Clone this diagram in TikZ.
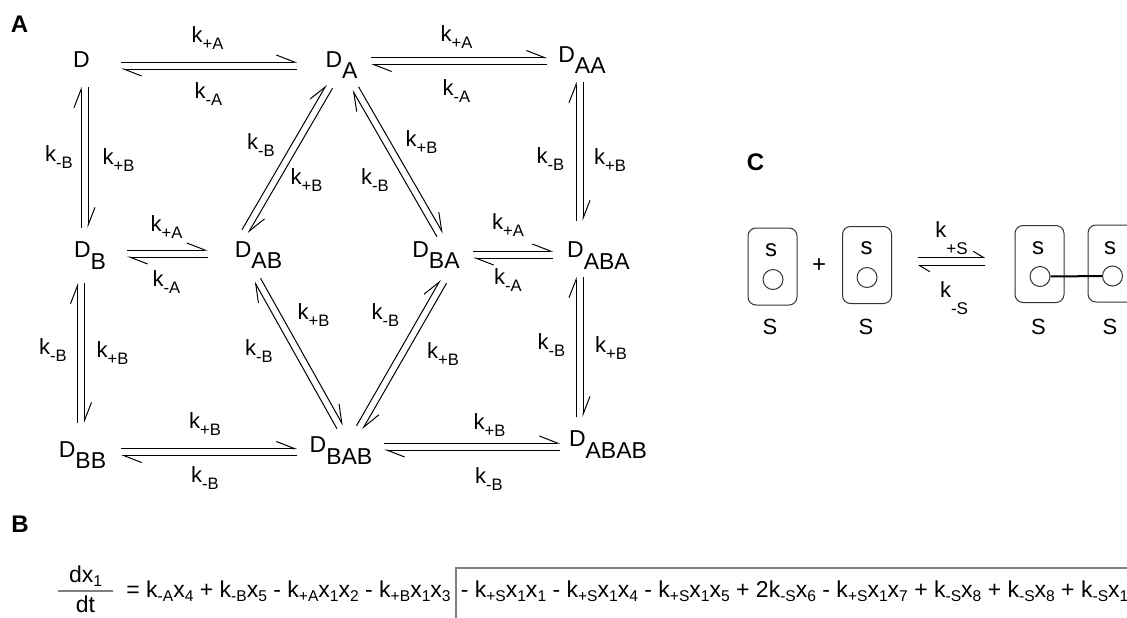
\documentclass[tikz,border=0pt]{standalone}
\usepackage{fontspec}
\setmainfont{Liberation Sans}
\usetikzlibrary{calc,arrows.meta}
\newcommand\dn[1]{\raisebox{-0.5em}{#1}}
\newcommand\lo[1]{\raisebox{-3.5pt}{\fontsize{8.3}{9}\selectfont#1}}
\newcommand\es[1]{\raisebox{-2pt}{\fontsize{7.8}{9}\selectfont#1}}
\newcommand\rxn[4][1.75pt]{\draw[#2]($#3!#1!90:#4$)--($#4!#1!-90:#3$);\draw[#2]($#4!#1!90:#3$)--($#3!#1!-90:#4$);}
\begin{document}
\begin{tikzpicture}[x=0.5pt,y=-0.5pt,
 st/.style={font=\fontsize{11.5}{13}\selectfont,inner sep=0,text height=8.2pt,text depth=5.75pt},
 kl/.style={font=\fontsize{11}{13}\selectfont,inner sep=0},
 rx/.style={line width=0.5pt,-{Straight Barb[left,length=9pt,width=7pt]}},
 rxs/.style={line width=0.5pt,-{Straight Barb[left,length=5pt,width=6pt]}},
 panel/.style={font=\fontsize{12}{14}\selectfont\bfseries,inner sep=0},
 cell/.style={draw=black!80,line width=0.5pt,rounded corners=4pt,minimum width=24.5pt,minimum height=38.5pt,inner sep=0},
 site/.style={draw=black!80,line width=0.5pt,circle,minimum size=10pt,inner sep=0},
 eq/.style={font=\fontsize{11.5}{14}\selectfont,inner sep=0}]
\useasboundingbox(0,0)rectangle(1127,617);
\clip(0,0)rectangle(1127,617);
\node[panel](pA)at(19.5,24){A};\node[panel](pB)at(20,524){B};\node[panel](pC)at(755.5,162.5){C};
\node[st](D)at(81.5,65.5){D};
\node[st](DA)at(341.5,65){D\dn{A}};
\node[st](DAA)at(582,60){D\dn{AA}};
\node[st](DB)at(90,255.5){D\dn{B}};
\node[st](DAB)at(258.5,255){D\dn{AB}};
\node[st](DBA)at(436,255){D\dn{BA}};
\node[st](DABA)at(598.5,255.5){D\dn{ABA}};
\node[st](DBB)at(82.5,455){D\dn{BB}};
\node[st](DBAB)at(341,450.5){D\dn{BAB}};
\node[st](DABAB)at(608,444.5){D\dn{ABAB}};
\rxn{rx}{([shift={(39.5,0)}]D)}{([shift={(-44.5,0.5)}]DA)}
\rxn{rx}{([shift={(29.5,-4)}]DA)}{([shift={(-35,1)}]DAA)}
\rxn{rx}{([shift={(37,-2)}]DB)}{([shift={(-51,-1.5)}]DAB)}
\rxn{rx}{([shift={(37,-0.5)}]DBA)}{([shift={(-45.5,-1)}]DABA)}
\rxn{rx}{([shift={(38.5,-3)}]DBB)}{([shift={(-44,1.5)}]DBAB)}
\rxn{rx}{([shift={(43,-4)}]DBAB)}{([shift={(-48,2)}]DABAB)}
\rxn{rx}{([shift={(3,21.5)}]D)}{([shift={(-5.5,-27.5)}]DB)}
\rxn{rx}{([shift={(-9,27.5)}]DB)}{([shift={(-1.5,-32)}]DBB)}
\rxn{rx}{([shift={(-2.5,22)}]DAA)}{([shift={(-19,-34.5)}]DABA)}
\rxn{rx}{([shift={(-19,21.5)}]DABA)}{([shift={(-28.5,-27.5)}]DABAB)}
\rxn{rx}{([shift={(-13.5,-23.5)}]DAB)}{([shift={(-12,21.5)}]DA)}
\rxn{rx}{([shift={(14,23.5)}]DA)}{([shift={(4,-20)}]DBA)}
\rxn{rx}{([shift={(-1,25)}]DAB)}{([shift={(-1,-23.5)}]DBAB)}
\rxn{rx}{([shift={(18.5,-23)}]DBAB)}{([shift={(7.5,26.5)}]DBA)}
\node[kl](k1)at(207.5,38.5){k\lo{+A}};\node[kl](k2)at(208.5,94){k\lo{-A}};
\node[kl](k3)at(456.5,37){k\lo{+A}};\node[kl](k4)at(456.5,91.5){k\lo{-A}};
\node[kl](k5)at(59,157.5){k\lo{-B}};\node[kl](k6)at(118.5,160){k\lo{+B}};
\node[kl](k7)at(261,145.5){k\lo{-B}};\node[kl](k8)at(306.5,180.5){k\lo{+B}};
\node[kl](k9)at(421.5,142){k\lo{+B}};\node[kl](k10)at(375,180.5){k\lo{-B}};
\node[kl](k11)at(550.5,159){k\lo{-B}};\node[kl](k12)at(610,160.5){k\lo{+B}};
\node[kl](k13)at(166.5,227){k\lo{+A}};\node[kl](k14)at(166.5,282){k\lo{-A}};
\node[kl](k15)at(508,225){k\lo{+A}};\node[kl](k16)at(508,280){k\lo{-A}};
\node[kl](k17)at(53,350.5){k\lo{-B}};\node[kl](k18)at(112.5,353.5){k\lo{+B}};
\node[kl](k19)at(313.5,315){k\lo{+B}};\node[kl](k20)at(259,351.5){k\lo{-B}};
\node[kl](k21)at(385.5,315.5){k\lo{-B}};\node[kl](k22)at(443,354){k\lo{+B}};
\node[kl](k23)at(551.5,345.5){k\lo{-B}};\node[kl](k24)at(611,348){k\lo{+B}};
\node[kl](k25)at(205,424.5){k\lo{+B}};\node[kl](k26)at(205,478.5){k\lo{-B}};
\node[kl](k27)at(489.5,425){k\lo{+B}};\node[kl](k28)at(489,479.5){k\lo{-B}};
\node[cell](b1)at(772.5,266.5){};\node[cell](b2)at(867,265){};
\node[cell](b3)at(1039.5,264){};\node[cell](b4)at(1112.5,263.5){};
\node[kl,font=\fontsize{12}{14}\selectfont](s1)at(771,250){s};\node[kl,font=\fontsize{12}{14}\selectfont](s2)at(866.5,248){s};
\node[kl,font=\fontsize{12}{14}\selectfont](s3)at(1038,248){s};\node[kl,font=\fontsize{12}{14}\selectfont](s4)at(1110,248){s};
\node[site](c1)at(773,279.5){};\node[site](c2)at(867,277.5){};
\node[site](c3)at(1040,276.5){};\node[site](c4)at(1112.5,276){};
\draw[line width=1pt](c3)--(c4);
\node[kl](S1)at(770,327){S};\node[kl](S2)at(866,327){S};\node[kl](S3)at(1038.5,327){S};\node[kl](S4)at(1110,327){S};
\node[kl,font=\fontsize{12}{14}\selectfont](plus)at(819,265.5){+};
\rxn[2.1pt]{rxs}{([shift={(51,-3.5)}]b2)}{([shift={(-54.5,-2.5)}]b3)}
\node[kl,font=\fontsize{11}{12}\selectfont](kpS)at(951.5,238.5){k\raisebox{-8.5pt}{\fontsize{8.5}{10}\selectfont+S}};
\node[kl,font=\fontsize{11}{12}\selectfont](kmS)at(954,298){k\raisebox{-8.5pt}{\fontsize{8.5}{10}\selectfont-S}};
\node[eq,minimum width=27.5pt,inner ysep=2pt,anchor=south](num)at(85.5,591){dx\es{1}};
\node[eq,anchor=north,inner ysep=2pt](den)at(num.south){dt};
\draw[black!50,line width=0.75pt](num.south west)--(num.south east);
\node[eq,anchor=base west](rhs)at(126,597){= k\es{-A}x\es{4} + k\es{-B}x\es{5} - k\es{+A}x\es{1}x\es{2} - k\es{+B}x\es{1}x\es{3}};
\node[eq,anchor=base west,draw=black!50,line width=0.75pt,inner xsep=2.5pt,inner ysep=2.5pt,text height=12pt,text depth=15pt](box)at([xshift=2pt]rhs.base east){- k\es{+S}x\es{1}x\es{1} - k\es{+S}x\es{1}x\es{4} - k\es{+S}x\es{1}x\es{5} + 2k\es{-S}x\es{6} - k\es{+S}x\es{1}x\es{7} + k\es{-S}x\es{8} + k\es{-S}x\es{8} + k\es{-S}x\es{13}\hspace*{60pt}};
\end{tikzpicture}
\end{document}
